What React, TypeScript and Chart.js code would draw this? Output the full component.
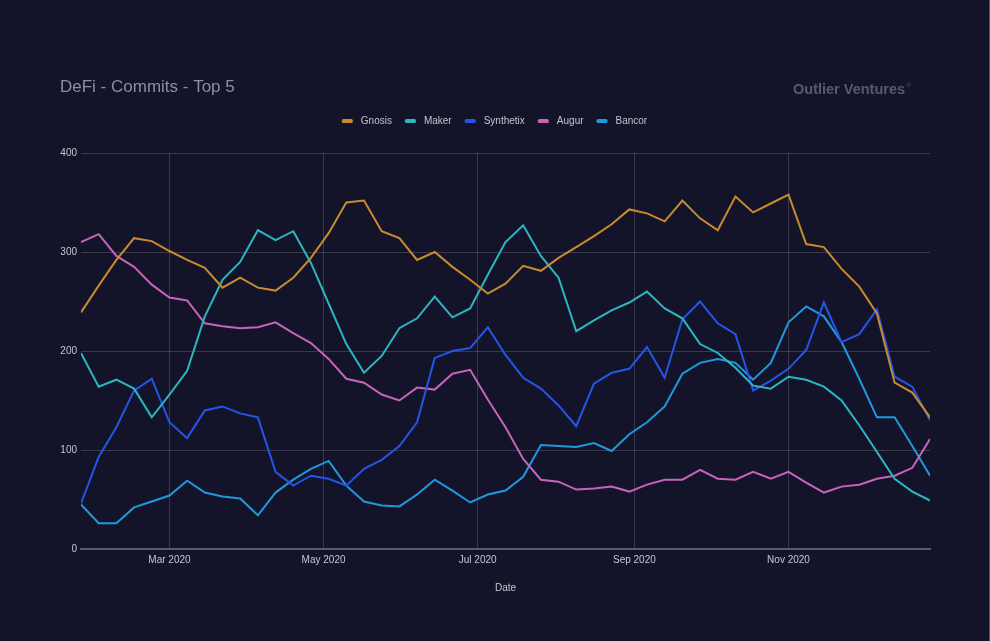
import React, { useEffect, useRef } from "react";
import { Chart, registerables } from "chart.js";

Chart.register(...registerables);

const TITLE = "DeFi - Commits - Top 5";
const BRAND = "Outlier Ventures";
const X_TITLE = "Date";

const WEEKS = [
  "2020-01-26", "2020-02-02", "2020-02-09", "2020-02-16", "2020-02-23",
  "2020-03-01", "2020-03-08", "2020-03-15", "2020-03-22", "2020-03-29",
  "2020-04-05", "2020-04-12", "2020-04-19", "2020-04-26",
  "2020-05-03", "2020-05-10", "2020-05-17", "2020-05-24", "2020-05-31",
  "2020-06-07", "2020-06-14", "2020-06-21", "2020-06-28",
  "2020-07-05", "2020-07-12", "2020-07-19", "2020-07-26",
  "2020-08-02", "2020-08-09", "2020-08-16", "2020-08-23", "2020-08-30",
  "2020-09-06", "2020-09-13", "2020-09-20", "2020-09-27",
  "2020-10-04", "2020-10-11", "2020-10-18", "2020-10-25",
  "2020-11-01", "2020-11-08", "2020-11-15", "2020-11-22", "2020-11-29",
  "2020-12-06", "2020-12-13", "2020-12-20", "2020-12-27",
];

const MONTH_TICKS = ["2020-03-01", "2020-05-01", "2020-07-01", "2020-09-01", "2020-11-01"];
const MONTH_LABELS = ["Mar 2020", "May 2020", "Jul 2020", "Sep 2020", "Nov 2020"];
const Y_TICKS = [0, 100, 200, 300, 400];

const GNOSIS = [
  239, 266, 292, 314, 311, 301, 292, 284, 264, 274,
  264, 261, 274, 294, 319, 350, 352, 321, 314, 292,
  300, 285, 272, 258, 268, 286, 281, 294, 305, 316,
  328, 343, 339, 331, 352, 334, 322, 356, 340, 349,
  358, 308, 305, 283, 265, 238, 168, 158, 133,
];
const MAKER = [
  198, 164, 171, 162, 133, 156, 180, 235, 272, 290,
  322, 312, 321, 289, 248, 207, 178, 195, 223, 233,
  255, 234, 243, 277, 310, 327, 296, 274, 220, 231,
  241, 249, 260, 243, 233, 207, 198, 183, 165, 162,
  174, 171, 164, 150, 125, 98, 71, 58, 49,
];
const SYNTHETIX = [
  46, 93, 123, 160, 172, 128, 112, 140, 144, 137,
  133, 78, 64, 74, 71, 64, 81, 90, 104, 128,
  193, 200, 203, 224, 196, 173, 162, 145, 124, 167,
  178, 182, 204, 173, 232, 250, 228, 217, 160, 170,
  182, 201, 249, 209, 217, 242, 174, 164, 130,
];
const AUGUR = [
  310, 318, 296, 285, 267, 254, 251, 228, 225, 223,
  224, 229, 218, 208, 192, 172, 168, 156, 150, 163,
  161, 177, 181, 151, 123, 91, 70, 68, 60, 61,
  63, 58, 65, 70, 70, 80, 71, 70, 78, 71,
  78, 67, 57, 63, 65, 71, 74, 82, 111,
];
const BANCOR = [
  45, 26, 26, 42, 48, 54, 69, 57, 53, 51,
  34, 57, 70, 81, 89, 64, 48, 44, 43, 55,
  70, 59, 47, 55, 59, 73, 105, 104, 103, 107,
  99, 116, 128, 144, 177, 188, 192, 188, 171, 188,
  229, 245, 235, 209, 172, 133, 133, 104, 74,
];

const SERIES_NAMES = ["Gnosis", "Maker", "Synthetix", "Augur", "Bancor"];
const SERIES_VALUES = [GNOSIS, MAKER, SYNTHETIX, AUGUR, BANCOR];
const SERIES_COLORS = ["#c98a2f", "#2bb6c0", "#2554e8", "#c664b9", "#1f98de"];

const BG = "#13132a";
const GRID = "rgba(255,255,255,0.16)";
const TICK_COLOR = "#c6c6d0";
const FONT = '"Liberation Sans", Arial, sans-serif';

const toTime = (d: string) => Date.parse(d);

const overlayPlugin = {
  id: "overlayText",
  afterDraw(chart: any) {
    const ctx = chart.ctx as CanvasRenderingContext2D;
    ctx.save();
    ctx.textAlign = "left";
    ctx.textBaseline = "alphabetic";
    ctx.font = `17px ${FONT}`;
    ctx.fillStyle = "#8e8e9e";
    ctx.fillText(TITLE, 60, 92);

    ctx.font = `bold 14.5px ${FONT}`;
    ctx.fillStyle = "#58596e";
    ctx.fillText(BRAND, 793, 94);
    const bw = ctx.measureText(BRAND).width;
    ctx.font = `6px ${FONT}`;
    ctx.fillText("®", 793 + bw + 1.5, 87);

    ctx.font = `10px ${FONT}`;
    const items = chart.data.datasets.map((d: any) => ({
      label: d.label as string,
      color: d.borderColor as string,
      w: ctx.measureText(d.label).width,
    }));
    const boxW = 11;
    const gapBoxText = 8;
    const gapItems = 13;
    const total =
      items.reduce((s: number, it: any) => s + boxW + gapBoxText + it.w, 0) +
      gapItems * (items.length - 1);
    let x = 494.5 - total / 2;
    const cy = 121;
    ctx.textBaseline = "middle";
    for (const it of items) {
      ctx.fillStyle = it.color;
      ctx.beginPath();
      (ctx as any).roundRect(x, cy - 2, boxW, 4, 1.5);
      ctx.fill();
      ctx.fillStyle = "#c2c2cc";
      ctx.fillText(it.label, x + boxW + gapBoxText, cy + 0.5);
      x += boxW + gapBoxText + it.w + gapItems;
    }
    ctx.restore();
  },
};

export default function App() {
  const ref = useRef<HTMLCanvasElement | null>(null);

  useEffect(() => {
    if (!ref.current) return;
    const datasets = SERIES_NAMES.map((name, si) => ({
      label: name,
      data: SERIES_VALUES[si].map((v, i) => ({ x: toTime(WEEKS[i]), y: v })),
      borderColor: SERIES_COLORS[si],
      backgroundColor: SERIES_COLORS[si],
      borderWidth: 2,
      pointRadius: 0,
      tension: 0,
      fill: false,
    }));

    const chart = new Chart(ref.current, {
      type: "line",
      data: { datasets },
      plugins: [overlayPlugin],
      options: {
        animation: false,
        responsive: false,
        devicePixelRatio: 1,
        layout: { padding: { left: 60, right: 60, top: 153, bottom: 40 } },
        plugins: {
          legend: { display: false },
          title: { display: false },
          tooltip: { enabled: false },
        },
        scales: {
          x: {
            type: "linear",
            min: toTime(WEEKS[0]),
            max: toTime(WEEKS[WEEKS.length - 1]),
            afterBuildTicks: (scale: any) => {
              scale.ticks = MONTH_TICKS.map((d) => ({ value: toTime(d) }));
            },
            afterFit: (scale: any) => {
              scale.height = 52;
            },
            ticks: {
              autoSkip: false,
              maxRotation: 0,
              padding: 5,
              color: TICK_COLOR,
              font: { family: FONT, size: 10 },
              callback: (value: any) => {
                const idx = MONTH_TICKS.findIndex((d) => toTime(d) === value);
                return idx >= 0 ? MONTH_LABELS[idx] : "";
              },
            },
            grid: { color: GRID, lineWidth: 1, drawTicks: false },
            border: { display: true, color: "#5a5a6e", width: 2 },
            title: {
              display: true,
              text: X_TITLE,
              color: TICK_COLOR,
              font: { family: FONT, size: 10 },
              padding: { top: 4, bottom: 7 },
            },
          },
          y: {
            type: "linear",
            min: 0,
            max: 400,
            afterBuildTicks: (scale: any) => {
              scale.ticks = Y_TICKS.map((v) => ({ value: v }));
            },
            afterFit: (scale: any) => {
              scale.width = 21;
            },
            ticks: {
              padding: 4,
              color: TICK_COLOR,
              font: { family: FONT, size: 10 },
            },
            grid: { color: GRID, lineWidth: 1, drawTicks: false },
            border: { display: false },
          },
        },
      },
    });
    return () => chart.destroy();
  }, []);

  return (
    <div
      style={{
        position: "absolute",
        left: 0,
        top: 0,
        width: 990,
        height: 641,
        background: BG,
        overflow: "hidden",
      }}
    >
      <canvas
        ref={ref}
        width={990}
        height={641}
        style={{ display: "block", width: 990, height: 641, background: BG }}
      />
      <div
        style={{
          position: "absolute",
          right: 0,
          top: 0,
          width: 1,
          height: 641,
          background: "#55555c",
        }}
      />
    </div>
  );
}
